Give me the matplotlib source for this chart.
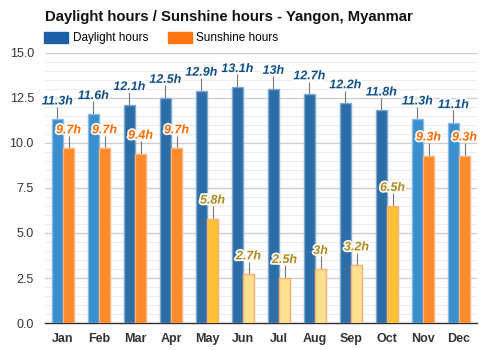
import numpy as np
import matplotlib.pyplot as plt
import matplotlib.patheffects as pe
from matplotlib.patches import Patch

months = ["Jan", "Feb", "Mar", "Apr", "May", "Jun", "Jul", "Aug", "Sep", "Oct", "Nov", "Dec"]
daylight = [11.3, 11.6, 12.1, 12.5, 12.9, 13.1, 13.0, 12.7, 12.2, 11.8, 11.3, 11.1]
sunshine = [9.7, 9.7, 9.4, 9.7, 5.8, 2.7, 2.5, 3.0, 3.2, 6.5, 9.3, 9.3]
day_labels = ["11.3h", "11.6h", "12.1h", "12.5h", "12.9h", "13.1h", "13h", "12.7h", "12.2h", "11.8h", "11.3h", "11.1h"]
sun_labels = ["9.7h", "9.7h", "9.4h", "9.7h", "5.8h", "2.7h", "2.5h", "3h", "3.2h", "6.5h", "9.3h", "9.3h"]

plt.rcParams['font.family'] = ['Liberation Sans', 'DejaVu Sans']


def day_colors(v):
    # shorter days lighter blue
    if v < 11.7:
        return "#3a8fcf", "#86bbe3"
    return "#2e6ea6", "#7ea8cf"


def sun_colors(v):
    if v >= 9:
        return "#ff8a2b", "#ffb27a", "#ff6a00"
    if v >= 5:
        return "#ffc236", "#ffb070", "#b08a1c"
    return "#ffe191", "#ffb070", "#b08a1c"


fig = plt.figure(figsize=(5, 3.5), dpi=100)
ax = fig.add_axes([0.09, 0.077, 0.864, 0.772])

x = np.arange(len(months))
w = 0.31
stroke = [pe.withStroke(linewidth=2.5, foreground="white")]

for i in x:
    fc, ec = day_colors(daylight[i])
    ax.bar(i - w / 2, daylight[i], w, color=fc, edgecolor=ec, linewidth=1, zorder=3)
    ax.vlines(i - w / 2, daylight[i], daylight[i] + 0.7, color="#777777", linewidth=0.8, zorder=2)
    ax.text(i - w / 2, daylight[i] + 1.0, day_labels[i], ha="center", va="center",
            fontsize=9, fontweight="bold", fontstyle="italic", color="#0f4f8c",
            path_effects=stroke, zorder=5)

    fc, ec, tc = sun_colors(sunshine[i])
    ax.bar(i + w / 2, sunshine[i], w, color=fc, edgecolor=ec, linewidth=1, zorder=3)
    ax.vlines(i + w / 2, sunshine[i], sunshine[i] + 0.7, color="#777777", linewidth=0.8, zorder=2)
    ax.text(i + w / 2, sunshine[i] + 1.0, sun_labels[i], ha="center", va="center",
            fontsize=9, fontweight="bold", fontstyle="italic", color=tc,
            path_effects=stroke, zorder=5)

ax.set_xlim(-0.5, 11.5)
ax.set_ylim(0, 15)
ax.set_yticks(np.arange(0, 15.1, 2.5))
ax.set_yticks(np.arange(0, 15.1, 0.5), minor=True)
ax.set_yticklabels(["%.1f" % v for v in np.arange(0, 15.1, 2.5)])
ax.set_xticks(x)
ax.set_xticklabels(months, fontweight="bold")
ax.grid(axis="y", which="major", color="#cccccc", linewidth=0.9, zorder=0)
ax.grid(axis="y", which="minor", color="#ededed", linewidth=0.7, zorder=0)
ax.set_axisbelow(True)
ax.tick_params(axis="both", which="both", length=0, labelsize=9, colors="#333333")
ax.tick_params(axis="y", pad=8)
ax.tick_params(axis="x", pad=7)
for s in ["top", "right", "left"]:
    ax.spines[s].set_visible(False)
ax.spines["bottom"].set_color("#333333")
ax.spines["bottom"].set_linewidth(1)

fig.text(0.09, 0.952, "Daylight hours / Sunshine hours - Yangon, Myanmar",
         fontsize=10.7, fontweight="bold", va="center", color="#111111")
handles = [Patch(color="#1b5fa6", label="Daylight hours"),
           Patch(color="#ff7310", label="Sunshine hours")]
fig.legend(handles=handles, loc="center left", bbox_to_anchor=(0.079, 0.891), ncol=2,
           frameon=False, fontsize=8.5, handlelength=2.0, handleheight=1.0,
           handletextpad=0.4, columnspacing=1.7, borderaxespad=0)

fig.savefig("out.png", dpi=100, facecolor="white")
